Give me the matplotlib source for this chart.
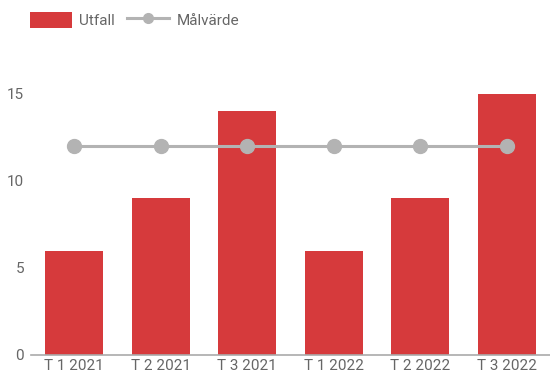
import numpy as np
import matplotlib.pyplot as plt
from matplotlib.lines import Line2D
from matplotlib.patches import Patch

plt.rcParams['font.family'] = ['Roboto', 'DejaVu Sans']

# Data
categories = ['T 1 2021', 'T 2 2021', 'T 3 2021', 'T 1 2022', 'T 2 2022', 'T 3 2022']
utfall = [6, 9, 14, 6, 9, 15]
malvarde = [12, 12, 12, 12, 12, 12]

bar_color = '#d63a3c'
line_color = '#b3b3b3'
text_color = '#666666'

fig = plt.figure(figsize=(5.5, 3.8), dpi=100)
ax = fig.add_axes([31 / 550, 25 / 380, 519 / 550, 295 / 380])

x = np.arange(len(categories))
ax.bar(x, utfall, width=0.67, color=bar_color, zorder=2)
ax.plot(x, malvarde, color=line_color, linewidth=2.2, marker='o',
        markersize=10, zorder=3)

ax.set_xlim(-0.5, len(categories) - 0.5)
ax.set_ylim(0, 16.95)
ax.set_yticks([0, 5, 10, 15])
ax.set_xticks(x)
ax.set_xticklabels(categories)
ax.tick_params(axis='both', length=0, labelsize=11, colors=text_color)
ax.tick_params(axis='y', pad=5)
ax.tick_params(axis='x', pad=3)

for s in ['top', 'right', 'left']:
    ax.spines[s].set_visible(False)
ax.spines['bottom'].set_color('#aaaaaa')
ax.spines['bottom'].set_linewidth(1.2)

handles = [Patch(facecolor=bar_color, edgecolor='none'),
           Line2D([0], [0], color=line_color, linewidth=2.2, marker='o', markersize=7)]
fig.legend(handles, ['Utfall', 'Målvärde'], loc='upper left',
           bbox_to_anchor=(16 / 550, 1 + 2 / 380), ncol=2, frameon=False,
           fontsize=11, labelcolor=text_color, handlelength=2.75,
           handleheight=1.25, columnspacing=0.8, handletextpad=0.5)

fig.savefig('out.png', dpi=100)
